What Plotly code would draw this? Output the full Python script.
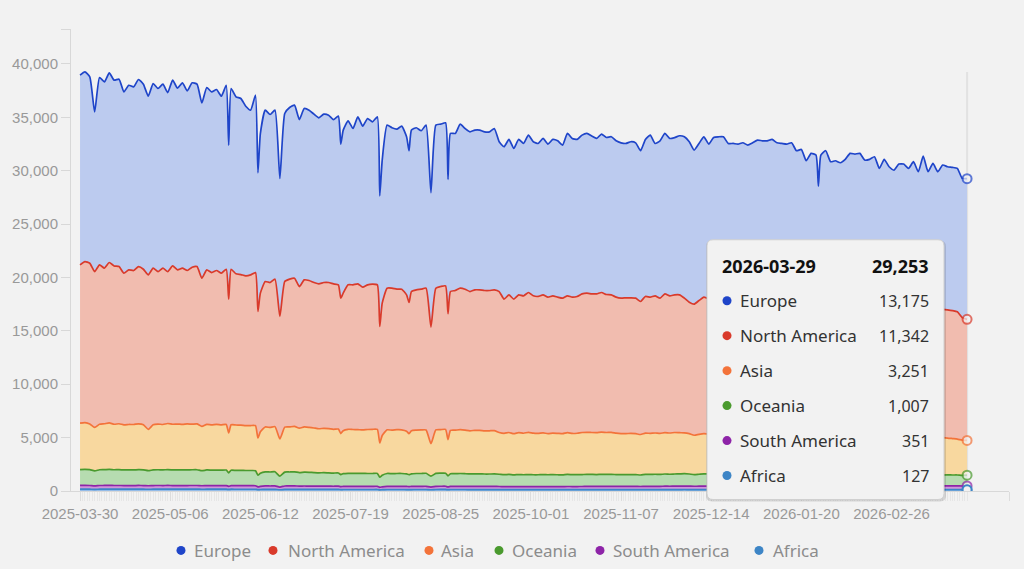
import plotly.graph_objects as go
import pandas as pd

start_date = "2025-03-30"

# days since the first date, one row per 10 samples
day_offsets = [
    0, 2, 4, 6, 8, 10, 12, 14, 16, 18,
    20, 22, 24, 26, 28, 30, 32, 34, 36, 38,
    40, 42, 44, 46, 48, 50, 52, 54, 56, 58,
    60, 61, 62, 64, 66, 68, 70, 72, 73, 74,
    76, 78, 80, 82, 84, 86, 88, 90, 92, 94,
    96, 98, 100, 102, 104, 106, 107, 108, 110, 112,
    114, 116, 118, 120, 122, 123, 124, 126, 128, 130,
    132, 134, 135, 136, 138, 140, 142, 144, 146, 148,
    150, 151, 152, 154, 156, 158, 160, 162, 164, 166,
    168, 170, 172, 174, 176, 178, 180, 182, 184, 186,
    188, 190, 192, 194, 196, 198, 200, 202, 204, 206,
    208, 210, 212, 214, 216, 218, 220, 222, 224, 226,
    228, 230, 232, 234, 236, 238, 240, 242, 244, 246,
    248, 250, 252, 254, 256, 258, 260, 262, 264, 266,
    268, 270, 272, 274, 276, 278, 280, 282, 284, 286,
    288, 290, 292, 294, 296, 298, 300, 302, 303, 304,
    306, 308, 310, 312, 314, 316, 318, 320, 322, 324,
    326, 328, 330, 332, 334, 336, 338, 340, 342, 344,
    346, 348, 350, 352, 354, 356, 358, 360, 362, 364,
]

europe = [
    17770, 17760, 17460, 14950, 17550, 17450, 17760, 17400, 17550, 16980,
    17290, 17200, 17520, 17330, 16740, 17290, 17150, 17230, 16770, 17400,
    17020, 17360, 16830, 17270, 17080, 16420, 17080, 16920, 16950, 16580,
    17230, 14420, 16930, 16580, 16490, 15890, 15430, 16610, 12990, 14950,
    16050, 15735, 15830, 12925, 15740, 16080, 16210, 15640, 16045, 15960,
    15765, 15550, 15765, 15675, 15390, 15800, 14430, 15270, 15360, 14640,
    15640, 15080, 15580, 15210, 15730, 12230, 13400, 15275, 15025, 14990,
    15270, 14810, 14215, 15120, 15180, 14840, 15275, 12590, 15275, 15210,
    15275, 12590, 14810, 14710, 15365, 15050, 14960, 14960, 14960, 14860,
    14860, 15110, 14030, 14270, 14560, 14115, 14560, 14270, 14740, 14430,
    14330, 14650, 14335, 14650, 14645, 14340, 15210, 14865, 14710, 14865,
    14960, 14775, 14555, 14840, 14710, 14810, 14645, 14550, 14460, 14620,
    14550, 14120, 14710, 15175, 14270, 14740, 15025, 14740, 14730, 14900,
    15115, 15025, 14430, 14710, 15020, 14490, 14990, 15025, 14995, 14600,
    14560, 14530, 14605, 14470, 14615, 14785, 14740, 14760, 14835, 14635,
    14600, 14560, 14635, 14170, 14250, 13580, 14060, 13950, 12280, 13960,
    14250, 13580, 13630, 13515, 13720, 14110, 14065, 14100, 13685, 13730,
    13905, 13175, 13770, 13310, 13100, 13490, 13470, 13205, 13640, 13000,
    14090, 13020, 13590, 13040, 13520, 13400, 13410, 13435, 13040, 13175,
]

north_america = [
    14830, 15090, 15050, 14600, 14930, 14570, 15020, 14830, 14720, 14200,
    14480, 14420, 14730, 14570, 14460, 14670, 14280, 14640, 14230, 14830,
    14440, 14630, 14370, 14700, 14740, 13880, 14470, 14260, 14410, 14200,
    14540, 12520, 14570, 14160, 14100, 14030, 14110, 14340, 11840, 12980,
    13620, 13575, 13810, 11465, 13640, 13840, 13880, 13270, 13775, 13750,
    13625, 13570, 13655, 13675, 13620, 13510, 12680, 12880, 13530, 13550,
    13650, 13370, 13550, 13590, 13540, 10910, 12390, 13265, 13295, 13160,
    13170, 12770, 12285, 13030, 13140, 13180, 13275, 10910, 13275, 13400,
    13445, 11780, 13000, 13080, 13255, 13200, 13040, 13160, 13160, 13140,
    13140, 13180, 13200, 12570, 12890, 12600, 12900, 12870, 13090, 12860,
    12820, 12930, 12775, 12860, 12755, 12690, 12810, 12765, 12810, 12985,
    13030, 12985, 12995, 13080, 12920, 12880, 12735, 12680, 12720, 12690,
    12690, 12460, 12800, 12755, 12850, 12670, 12995, 12850, 12890, 12910,
    12610, 12315, 12280, 12530, 12785, 12660, 12740, 12780, 12790, 12660,
    12680, 12660, 12690, 12650, 12690, 12740, 12730, 12720, 12750, 12680,
    12680, 12680, 12710, 12530, 12550, 12290, 12410, 12380, 11500, 12380,
    12450, 12220, 12230, 12180, 12260, 12370, 12360, 12370, 12240, 12250,
    12300, 12050, 12230, 12050, 11980, 12100, 12120, 12010, 12140, 11930,
    12230, 11920, 12090, 11910, 12020, 12010, 11990, 11920, 11470, 11342,
]

asia = [
    4340, 4370, 4280, 4070, 4260, 4300, 4350, 4260, 4300, 4230,
    4250, 4260, 4290, 4220, 3880, 4220, 4280, 4250, 4320, 4270,
    4300, 4260, 4300, 4270, 4290, 4150, 4270, 4240, 4280, 4250,
    4270, 3750, 4250, 4250, 4240, 4200, 4210, 4220, 3490, 3890,
    4210, 4170, 4230, 3490, 4210, 4220, 4260, 4150, 4240, 4210,
    4180, 4130, 4150, 4150, 4100, 4110, 3840, 4030, 4120, 4110,
    4090, 4070, 4120, 4140, 4120, 3210, 3730, 4090, 4070, 4100,
    4090, 4000, 3840, 4040, 4060, 4080, 4060, 3050, 4070, 4080,
    4100, 3400, 4060, 4080, 4100, 4080, 4040, 4070, 4070, 4050,
    4050, 4060, 3910, 3870, 3930, 3860, 3930, 3890, 3960, 3900,
    3880, 3900, 3860, 3890, 3880, 3860, 3920, 3860, 3880, 3940,
    3940, 3930, 3930, 3950, 3930, 3930, 3880, 3850, 3840, 3860,
    3830, 3790, 3860, 3850, 3860, 3840, 3880, 3860, 3890, 3860,
    3830, 3780, 3680, 3740, 3770, 3750, 3770, 3770, 3780, 3700,
    3720, 3710, 3720, 3700, 3720, 3740, 3730, 3730, 3740, 3710,
    3690, 3680, 3690, 3620, 3630, 3530, 3600, 3590, 3350, 3590,
    3620, 3520, 3540, 3530, 3550, 3600, 3590, 3600, 3540, 3550,
    3570, 3490, 3540, 3510, 3490, 3520, 3520, 3500, 3540, 3480,
    3530, 3470, 3490, 3460, 3490, 3450, 3410, 3360, 3300, 3251,
]

oceania = [
    1490, 1503, 1484, 1399, 1475, 1482, 1505, 1476, 1483, 1462,
    1468, 1461, 1482, 1468, 1408, 1468, 1475, 1468, 1482, 1468,
    1461, 1468, 1468, 1475, 1475, 1407, 1461, 1454, 1454, 1447,
    1454, 1258, 1447, 1431, 1431, 1424, 1424, 1408, 1095, 1230,
    1317, 1310, 1324, 1019, 1300, 1307, 1314, 1269, 1293, 1286,
    1262, 1248, 1262, 1248, 1234, 1241, 1130, 1189, 1218, 1211,
    1218, 1211, 1204, 1204, 1211, 946, 1076, 1204, 1197, 1204,
    1204, 1173, 1121, 1180, 1204, 1204, 1218, 1019, 1211, 1225,
    1225, 1040, 1187, 1187, 1204, 1187, 1173, 1180, 1180, 1166,
    1164, 1171, 1150, 1119, 1133, 1105, 1126, 1112, 1126, 1112,
    1109, 1123, 1109, 1114, 1107, 1100, 1128, 1114, 1112, 1117,
    1129, 1122, 1115, 1127, 1120, 1125, 1111, 1104, 1102, 1109,
    1107, 1079, 1121, 1112, 1126, 1112, 1141, 1124, 1139, 1144,
    1157, 1135, 1097, 1119, 1140, 1133, 1145, 1138, 1143, 1131,
    1129, 1129, 1134, 1120, 1125, 1130, 1132, 1123, 1128, 1123,
    1114, 1105, 1110, 1090, 1096, 1074, 1089, 1079, 1003, 1072,
    1085, 1063, 1068, 1061, 1066, 1071, 1071, 1076, 1064, 1062,
    1060, 1039, 1051, 1037, 1030, 1042, 1042, 1035, 1047, 1028,
    1047, 1026, 1038, 1024, 1029, 1034, 1027, 1025, 1002, 1007,
]

south_america = [
    348, 352, 346, 326, 344, 346, 350, 344, 346, 340,
    342, 340, 346, 342, 330, 342, 344, 342, 346, 342,
    340, 342, 342, 344, 344, 330, 340, 338, 338, 336,
    338, 296, 336, 334, 334, 332, 332, 330, 258, 288,
    320, 318, 322, 252, 318, 320, 322, 312, 316, 314,
    310, 306, 310, 306, 302, 304, 278, 292, 300, 298,
    300, 298, 296, 296, 298, 234, 268, 296, 294, 296,
    296, 290, 278, 292, 296, 296, 300, 252, 298, 302,
    302, 258, 294, 294, 296, 294, 290, 292, 292, 288,
    290, 292, 286, 280, 284, 276, 282, 278, 282, 278,
    280, 284, 280, 284, 282, 280, 288, 284, 286, 290,
    296, 294, 292, 298, 296, 300, 296, 294, 296, 298,
    300, 292, 304, 304, 308, 304, 312, 310, 314, 318,
    324, 318, 310, 316, 322, 320, 326, 324, 328, 322,
    324, 324, 328, 324, 328, 332, 330, 330, 334, 330,
    330, 330, 334, 326, 330, 324, 328, 328, 304, 326,
    332, 326, 330, 328, 332, 336, 336, 340, 334, 336,
    338, 332, 338, 334, 332, 338, 338, 336, 342, 334,
    342, 336, 342, 338, 342, 346, 344, 346, 342, 351,
]

africa = [
    172, 175, 170, 155, 171, 172, 175, 170, 171, 168,
    170, 169, 172, 170, 162, 170, 171, 170, 172, 170,
    169, 170, 170, 171, 171, 163, 169, 168, 168, 167,
    168, 146, 167, 165, 165, 164, 164, 162, 127, 142,
    153, 152, 154, 119, 152, 153, 154, 149, 151, 150,
    148, 146, 148, 146, 144, 145, 132, 139, 142, 141,
    142, 141, 140, 140, 141, 110, 126, 140, 139, 140,
    140, 137, 131, 138, 140, 140, 142, 119, 141, 143,
    143, 122, 139, 139, 140, 139, 137, 138, 138, 136,
    136, 137, 134, 131, 133, 129, 132, 130, 132, 130,
    131, 133, 131, 132, 131, 130, 134, 132, 132, 133,
    135, 134, 133, 135, 134, 135, 133, 132, 132, 133,
    133, 129, 135, 134, 136, 134, 137, 136, 137, 138,
    139, 137, 133, 135, 138, 137, 139, 138, 139, 137,
    137, 137, 138, 136, 137, 138, 138, 137, 138, 137,
    136, 135, 136, 134, 134, 132, 133, 133, 123, 132,
    133, 131, 132, 131, 132, 133, 133, 134, 132, 132,
    132, 129, 131, 129, 128, 130, 130, 129, 131, 128,
    131, 128, 130, 128, 129, 130, 129, 129, 126, 127,
]

region_names = ["Europe", "North America", "Asia", "Oceania", "South America", "Africa"]
region_values = [europe, north_america, asia, oceania, south_america, africa]
line_colors = ["#1f45c9", "#d93a2b", "#f3733a", "#4a9a2e", "#8e24a8", "#3d85c6"]
fill_colors = ["#bccbef", "#f1bcaf", "#f8d89f", "#b6dcb0", "#cf97da", "#93bbe8"]

x_labels = ["2025-03-30", "2025-05-06", "2025-06-12", "2025-07-19", "2025-08-25",
            "2025-10-01", "2025-11-07", "2025-12-14", "2026-01-20", "2026-02-26"]
y_ticks = [0, 5000, 10000, 15000, 20000, 25000, 30000, 35000, 40000]
y_axis_top = 43270
x_axis_start = "2025-03-26 07:00"
x_axis_end = "2026-04-15 05:00"

dates = pd.to_datetime(start_date) + pd.to_timedelta(day_offsets, unit="D")
daily_dates = pd.date_range(start_date, dates[-1], freq="D")

# plot area in page pixels
left, right, top, bottom = 71, 1009, 29, 491.5
width, height = 1024, 569


def px(x):
    return (x - left) / (right - left)


def py(y):
    return (bottom - y) / (bottom - top)


def rounded_box(x0, y0, x1, y1, r):
    return (f"M {px(x0 + r)} {py(y0)} L {px(x1 - r)} {py(y0)} "
            f"Q {px(x1)} {py(y0)} {px(x1)} {py(y0 + r)} L {px(x1)} {py(y1 - r)} "
            f"Q {px(x1)} {py(y1)} {px(x1 - r)} {py(y1)} L {px(x0 + r)} {py(y1)} "
            f"Q {px(x0)} {py(y1)} {px(x0)} {py(y1 - r)} L {px(x0)} {py(y0 + r)} "
            f"Q {px(x0)} {py(y0)} {px(x0 + r)} {py(y0)} Z")


fig = go.Figure()

# stack from the bottom up, only the last point gets a ring
n = len(dates)
ring_sizes = [0] * (n - 1) + [9]
ring_widths = [0] * (n - 1) + [2]
for name, values, line_color, fill_color in reversed(list(zip(region_names, region_values, line_colors, fill_colors))):
    fig.add_trace(go.Scatter(
        x=dates, y=values, name=name, mode="lines+markers", stackgroup="one",
        line=dict(color=line_color, width=1.7, shape="spline", smoothing=0.5),
        fillcolor=fill_color,
        marker=dict(size=ring_sizes, color="#f2f2f2", line=dict(color=line_color, width=ring_widths)),
        showlegend=False, hoverinfo="skip",
    ))

# the Africa ring sits on top of the South America one
fig.add_trace(go.Scatter(
    x=[dates[-1]], y=[africa[-1]], mode="markers",
    marker=dict(size=9, color="#f2f2f2", line=dict(color=line_colors[5], width=2)),
    showlegend=False, hoverinfo="skip",
))

shapes = [
    # pointer line at the last date
    dict(type="line", xref="x", yref="y", x0=dates[-1], x1=dates[-1], y0=0, y1=39240,
         line=dict(color="#e2e2e2", width=2), layer="below"),
    # tooltip box with a soft shadow
    dict(type="path", xref="paper", yref="paper", path=rounded_box(706, 241, 946, 502, 6),
         fillcolor="rgba(0,0,0,0.12)", line=dict(width=0)),
    dict(type="path", xref="paper", yref="paper", path=rounded_box(707, 240, 944, 500, 6),
         fillcolor="#f2f2f2", line=dict(color="#d0d0d0", width=1)),
]

annotations = []
label_font = "Noto Sans"
tooltip_rows = [301, 336, 371, 406, 441, 476]
legend_dots = [181, 273, 429, 499, 600, 759]
legend_texts = [194, 288, 441, 512, 613, 773]
legend_y = 551


def add_text(text, x, y, anchor, size=17, color="#333333", bold=False):
    # annotations carry about 2px of padding
    x = x - 2 if anchor == "left" else x + 2
    annotations.append(dict(
        text=f"<b>{text}</b>" if bold else text, xref="paper", yref="paper",
        x=px(x), y=py(y), xanchor=anchor, yanchor="middle", showarrow=False,
        font=dict(family=label_font, size=size, color=color),
    ))


def add_dot(x, y, color):
    shapes.append(dict(type="circle", xref="paper", yref="paper",
                       x0=px(x - 4.5), x1=px(x + 4.5), y0=py(y + 4.5), y1=py(y - 4.5),
                       fillcolor=color, line=dict(width=0)))


add_text(daily_dates[-1].strftime("%Y-%m-%d"), 722, 266, "left", size=18, color="#111111", bold=True)
add_text(f"{sum(v[-1] for v in region_values):,}", 929, 266, "right", size=18, color="#111111", bold=True)
for name, values, line_color, row_y in zip(region_names, region_values, line_colors, tooltip_rows):
    add_dot(727, row_y, line_color)
    add_text(name, 740, row_y, "left")
    add_text(f"{values[-1]:,}", 929, row_y, "right", size=16)

# legend row under the chart
for name, line_color, dot_x, text_x in zip(region_names, line_colors, legend_dots, legend_texts):
    add_dot(dot_x, legend_y, line_color)
    add_text(name, text_x, legend_y, "left", color="#8c8c8c")

fig.update_layout(
    width=width, height=height,
    autosize=False,
    margin=dict(l=left, r=width - right, t=top, b=height - bottom),
    paper_bgcolor="#f2f2f2",
    plot_bgcolor="#f2f2f2",
    showlegend=False,
    shapes=shapes,
    annotations=annotations,
    hovermode=False,
)
fig.update_xaxes(
    type="date",
    range=[x_axis_start, x_axis_end],
    tickmode="array",
    tickvals=x_labels + [x_axis_end],
    ticktext=x_labels + [""],
    ticks="outside", ticklen=9, tickcolor="#dcdcdc", tickwidth=1,
    minor=dict(tickmode="array", tickvals=list(daily_dates), ticks="outside", ticklen=9,
               tickcolor="#e6e6e6", tickwidth=1),
    showgrid=False, zeroline=False,
    showline=True, linecolor="#d8d8d8", linewidth=1,
    tickfont=dict(family="Liberation Sans", size=15, color="#999999"),
)
fig.update_yaxes(
    range=[0, y_axis_top],
    tickmode="array",
    tickvals=y_ticks + [y_axis_top],
    ticktext=[f"{v:,}" for v in y_ticks] + [""],
    ticks="outside", ticklen=9, tickcolor="#d8d8d8", tickwidth=1,
    showgrid=False, zeroline=False,
    showline=True, linecolor="#d8d8d8", linewidth=1,
    tickfont=dict(family="Liberation Sans", size=15, color="#999999"),
)

fig.write_html("out.html", config={"displayModeBar": False},
               post_script="document.body.style.margin='0';document.body.style.background='#f2f2f2';")
